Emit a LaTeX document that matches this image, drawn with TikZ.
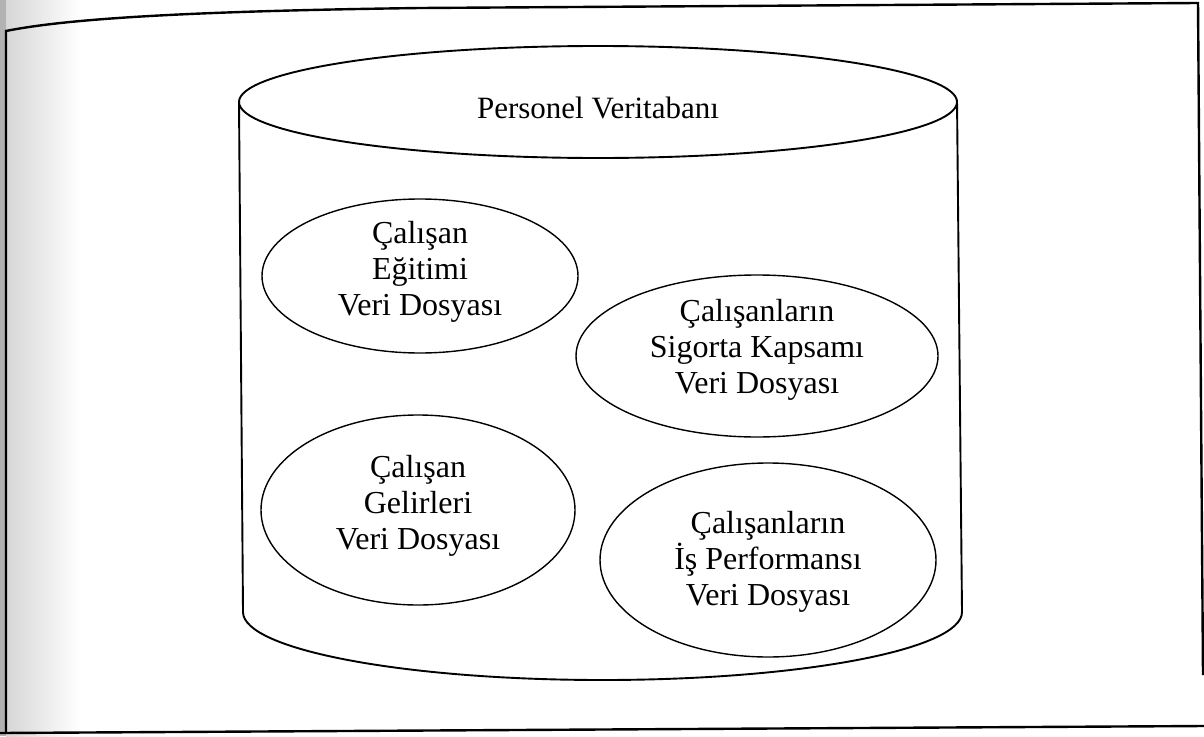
\documentclass[tikz,border=0pt]{standalone}
\usepackage{fontspec}
\setmainfont{Liberation Serif}
\usetikzlibrary{shapes.geometric}

\tikzset{
  frameline/.style={line width=2.4pt, line join=miter},
  cylline/.style={line width=1.9pt},
  fileoval/.style={draw, ellipse, line width=1.4pt, inner sep=0pt},
  filetext/.style={align=center, font=\fontsize{32}{36}\selectfont, inner sep=0pt},
  titletext/.style={font=\fontsize{31}{36}\selectfont, inner sep=0pt},
}

\begin{document}
\begin{tikzpicture}[x=1pt, y=-1pt]
  \useasboundingbox (0,0) rectangle (1204,736);

  % scanner shadow along the left margin
  \fill[black!30] (0,0) rectangle (6,736);
  \shade[left color=black!16, right color=white] (6,0) rectangle (80,736);

  % page frame
  \coordinate (fbl) at (6,733);
  \coordinate (ftl) at (6,31);
  \coordinate (ftr) at (1198,3);
  \coordinate (fbr) at (1203,675);
  \coordinate (fb0) at (0,733);
  \coordinate (fb1) at (1204,726);
  \draw[frameline] (fbl) -- (ftl) .. controls (70,18) and (200,11) .. (420,8) -- (ftr) -- (fbr);
  \draw[frameline] (fb0) -- (fb1);

  % database cylinder
  \node[draw, ellipse, cylline, minimum width=718pt, minimum height=112pt, inner sep=0pt] (top) at (598,102) {};
  \coordinate (lt) at (239,103);
  \coordinate (lb) at (243,612);
  \coordinate (rt) at (957,100);
  \coordinate (rb) at (962,612);
  \draw[cylline] (lt) -- (lb) arc[start angle=180, end angle=360, x radius=359.5pt, y radius=68pt] -- (rt);
  \node[titletext] (title) at (598,108) {Personel Veritabanı};

  % data files
  \node[fileoval, minimum width=316pt, minimum height=154pt] (f1) at (420,276) {};
  \node[filetext] (t1) at (420,272) {Çalışan\\Eğitimi\\Veri Dosyası};

  \node[fileoval, minimum width=362pt, minimum height=162pt] (f2) at (757,356) {};
  \node[filetext] (t2) at (757,350) {Çalışanların\\Sigorta Kapsamı\\Veri Dosyası};

  \node[fileoval, minimum width=314pt, minimum height=190pt] (f3) at (418,510) {};
  \node[filetext] (t3) at (418,506) {Çalışan\\Gelirleri\\Veri Dosyası};

  \node[fileoval, minimum width=336pt, minimum height=194pt] (f4) at (768,560) {};
  \node[filetext] (t4) at (768,562) {Çalışanların\\İş Performansı\\Veri Dosyası};
\end{tikzpicture}
\end{document}
